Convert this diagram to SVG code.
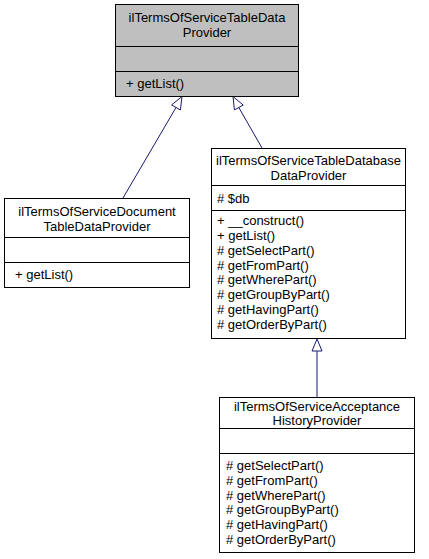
<svg xmlns="http://www.w3.org/2000/svg" width="429" height="559" viewBox="0 0 429 559">
<style>
.box{fill:#ffffff;stroke:#000000;stroke-width:1}
.base{fill:#bfbfbf;stroke:#000000;stroke-width:1}
.div{stroke:#000000;stroke-width:1}
text{font-family:"Liberation Sans",Arial,sans-serif;font-size:13px;fill:#000000}
.t{text-anchor:middle}
.edge{stroke:#191970;stroke-width:1;fill:none}
.head{fill:#ffffff;stroke:#191970;stroke-width:1}
</style>
<rect width="429" height="559" fill="#ffffff"/>
<g id="connectors">
<path class="edge" d="M123,198 L176,107.5"/>
<polygon class="head" points="182,96.5 180.4,110 171.6,104.9"/>
<path class="edge" d="M262,148 L238.8,107.5"/>
<polygon class="head" points="233,96.5 243.2,105.1 234.4,109.9"/>
<path class="edge" d="M317,397 L317,351"/>
<polygon class="head" points="317,339 322,351 312,351"/>
</g>
<g id="node-ilTermsOfServiceTableDataProvider">
<rect class="base" x="115.5" y="4.5" width="183" height="92"/>
<line class="div" x1="115.5" y1="46.5" x2="298.5" y2="46.5"/>
<line class="div" x1="115.5" y1="71.5" x2="298.5" y2="71.5"/>
<text class="t" x="207" y="22">ilTermsOfServiceTableData</text>
<text class="t" x="207" y="37">Provider</text>
<text x="126" y="88">+ getList()</text>
</g>
<g id="node-ilTermsOfServiceDocumentTableDataProvider">
<rect class="box" x="4.5" y="198.5" width="185" height="89"/>
<line class="div" x1="4.5" y1="237.5" x2="189.5" y2="237.5"/>
<line class="div" x1="4.5" y1="262.5" x2="189.5" y2="262.5"/>
<text class="t" x="97" y="216">ilTermsOfServiceDocument</text>
<text class="t" x="97" y="231">TableDataProvider</text>
<text x="15" y="279">+ getList()</text>
</g>
<g id="node-ilTermsOfServiceTableDatabaseDataProvider">
<rect class="box" x="211.5" y="148.5" width="194" height="190"/>
<line class="div" x1="211.5" y1="185.5" x2="405.5" y2="185.5"/>
<line class="div" x1="211.5" y1="210.5" x2="405.5" y2="210.5"/>
<text class="t" x="308.5" y="165">ilTermsOfServiceTableDatabase</text>
<text class="t" x="308.5" y="180">DataProvider</text>
<text x="217" y="203"># $db</text>
<text x="217" y="225">+ __construct()</text>
<text x="217" y="240">+ getList()</text>
<text x="217" y="255"># getSelectPart()</text>
<text x="217" y="270"># getFromPart()</text>
<text x="217" y="284"># getWherePart()</text>
<text x="217" y="299"># getGroupByPart()</text>
<text x="217" y="314"># getHavingPart()</text>
<text x="217" y="329"># getOrderByPart()</text>
</g>
<g id="node-ilTermsOfServiceAcceptanceHistoryProvider">
<rect class="box" x="219.5" y="397.5" width="195" height="155"/>
<line class="div" x1="219.5" y1="428.5" x2="414.5" y2="428.5"/>
<line class="div" x1="219.5" y1="453.5" x2="414.5" y2="453.5"/>
<text class="t" x="317" y="411">ilTermsOfServiceAcceptance</text>
<text class="t" x="317" y="425">HistoryProvider</text>
<text x="226" y="470"># getSelectPart()</text>
<text x="226" y="485"># getFromPart()</text>
<text x="226" y="500"># getWherePart()</text>
<text x="226" y="514"># getGroupByPart()</text>
<text x="226" y="529"># getHavingPart()</text>
<text x="226" y="544"># getOrderByPart()</text>
</g>
</svg>
